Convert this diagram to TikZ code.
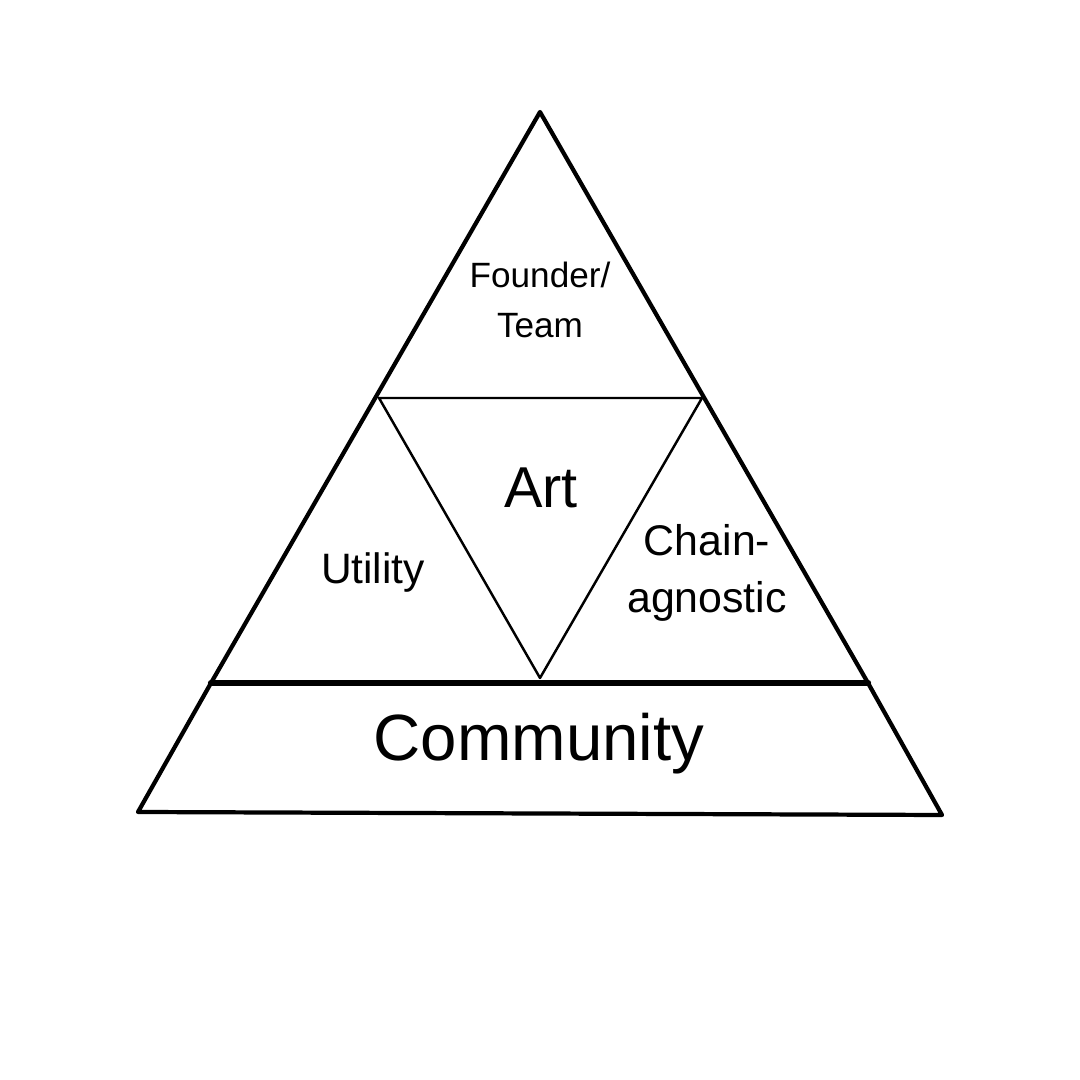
\documentclass[tikz,border=0pt]{standalone}
\usepackage{fontspec}
\setmainfont{Liberation Sans}
\usetikzlibrary{calc,positioning}

\begin{document}
\begin{tikzpicture}[
            line join = round, % corners of the pyramid
            line cap = round,
            semithick % line style
        ]

        \tikzstyle{outer}=[
            draw = black,
            line width = 1.2pt
        ]
        \tikzstyle{inner}=[
            draw = black,
            line width = 0.7pt
        ]
        \tikzstyle{label}=[
            align = center,
            inner sep = 0pt
        ]

        \useasboundingbox (0,0) rectangle (10.8,10.8);

        % corners
        \coordinate (apex) at (5.40,9.68);
        \coordinate (ml) at (3.79,6.82);
        \coordinate (mr) at (7.02,6.82);
        \coordinate (mb) at (5.40,4.02);
        \coordinate (bl) at (2.11,3.97);
        \coordinate (br) at (8.68,3.97);
        \coordinate (fl) at (1.38,2.68);
        \coordinate (fr) at (9.42,2.65);

        % texts
        \node[label, font=\fontsize{10}{14}\selectfont] (team) at (5.40,7.80) {Founder/\\Team};
        \node[label, font=\fontsize{16.4}{19}\selectfont] (art) at (5.41,5.92) {Art};
        \node[label, font=\fontsize{12.1}{14}\selectfont, anchor=base] (utility) at (3.73,4.96) {Utility};
        \node[label, font=\fontsize{12.2}{16}\selectfont] (chain) at (7.07,5.07) {Chain-\\agnostic};
        \node[label, font=\fontsize{18.6}{22}\selectfont, anchor=base] (community) at (5.39,3.19) {Community};

        \draw[outer] (bl) -- (apex) -- (br);
        \draw[outer] (bl) -- (fl) -- (fr) -- (br);
        \draw[draw, line width = 1.8pt] (bl) -- (br);
        \draw[inner] (ml) -- (mr) -- (mb) -- cycle;

    \end{tikzpicture}
\end{document}
